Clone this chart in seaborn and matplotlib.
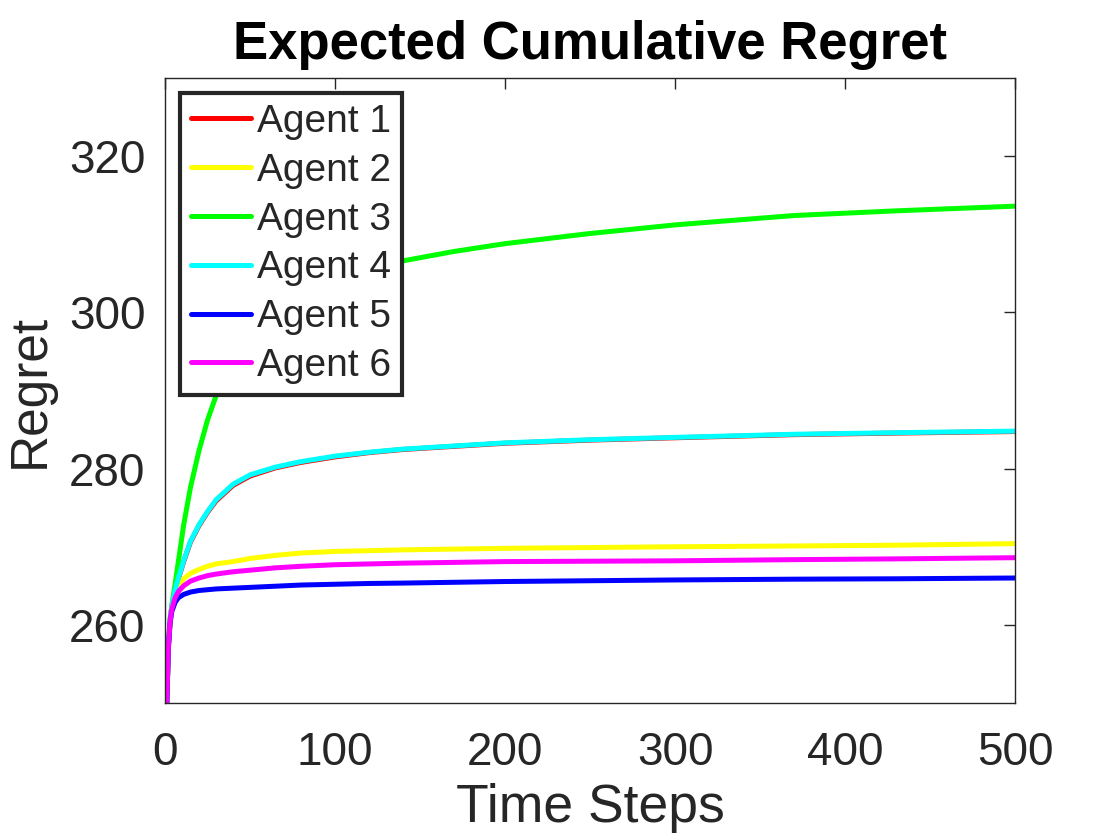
import numpy as np
import pandas as pd
import seaborn as sns
import matplotlib
matplotlib.use("Agg")
import matplotlib.pyplot as plt

steps = [1, 2, 3, 4, 6, 8, 11, 15, 20, 25, 30, 40, 50, 65, 80, 100, 120, 140,
         170, 200, 250, 300, 370, 430, 500]

agent1 = [249.5, 257.4, 260.7, 262.2, 264.4, 266.0, 268.1, 270.6, 272.7, 274.4,
          275.85, 277.85, 279.05, 280.1, 280.8, 281.5, 282.05, 282.45, 282.85, 283.25,
          283.65, 283.95, 284.35, 284.55, 284.75]
agent2 = [249.5, 257.3, 260.6, 262.3, 264.0, 265.0, 265.9, 266.6, 267.1, 267.5,
          267.8, 268.1, 268.5, 268.9, 269.2, 269.4, 269.5, 269.6, 269.7, 269.8,
          269.9, 270.0, 270.1, 270.2, 270.4]
agent3 = [249.5, 257.0, 260.5, 262.5, 265.3, 268.3, 272.8, 277.6, 282.3, 286.2,
          289.3, 294.0, 297.3, 300.6, 302.8, 304.6, 305.7, 306.6, 307.8, 308.8,
          310.1, 311.2, 312.4, 313.0, 313.6]
agent4 = [249.5, 257.5, 260.8, 262.3, 264.5, 266.1, 268.2, 270.7, 272.8, 274.5,
          276.0, 278.0, 279.2, 280.2, 280.9, 281.6, 282.1, 282.5, 282.9, 283.3,
          283.7, 284.0, 284.4, 284.6, 284.8]
agent5 = [249.5, 257.0, 260.2, 261.7, 262.9, 263.5, 263.9, 264.2, 264.4, 264.5,
          264.6, 264.7, 264.8, 264.95, 265.1, 265.2, 265.3, 265.35, 265.45, 265.55,
          265.65, 265.75, 265.85, 265.9, 266.0]
agent6 = [249.5, 257.2, 260.4, 262.0, 263.5, 264.3, 265.0, 265.6, 266.0, 266.3,
          266.5, 266.8, 267.0, 267.3, 267.5, 267.7, 267.8, 267.9, 268.0, 268.1,
          268.15, 268.2, 268.35, 268.45, 268.6]

agent_names = ["Agent 1", "Agent 2", "Agent 3", "Agent 4", "Agent 5", "Agent 6"]
agent_colors = ["#ff0000", "#ffff00", "#00ff00", "#00ffff", "#0000ff", "#ff00ff"]

series = [agent1, agent2, agent3, agent4, agent5, agent6]
df = pd.concat(
    [pd.DataFrame({"step": steps, "regret": vals, "agent": name})
     for name, vals in zip(agent_names, series)],
    ignore_index=True,
)

sns.set_style("white")
plt.rcParams["font.family"] = ["Liberation Sans", "DejaVu Sans"]

fig = plt.figure(figsize=(11.2, 8.4), dpi=100)
ax = fig.add_axes([0.1473, 0.1631, 0.759, 0.744])

sns.lineplot(data=df, x="step", y="regret", hue="agent", hue_order=agent_names,
             palette=agent_colors, linewidth=3.6, ax=ax, legend=False)

ax.set_xlim(0, 500)
ax.set_ylim(250, 330)
ax.set_xticks([0, 100, 200, 300, 400, 500])
ax.set_yticks([260, 280, 300, 320])

for side in ["top", "right", "bottom", "left"]:
    ax.spines[side].set_visible(True)
    ax.spines[side].set_color("#262626")
    ax.spines[side].set_linewidth(1.0)

ax.tick_params(direction="in", length=8, width=1.0, top=True, right=True,
               labelsize=33, colors="#262626")
ax.tick_params(axis="x", pad=20)
ax.tick_params(axis="y", pad=14)

ax.set_title("Expected Cumulative Regret", fontsize=38, fontweight="bold",
             color="black", pad=14)
ax.set_xlabel("Time Steps", fontsize=38.5, color="#262626", labelpad=6)
ax.set_ylabel("Regret", fontsize=37, color="#262626", labelpad=10)

handles = [plt.Line2D([], [], color=c, linewidth=3.6) for c in agent_colors]
leg = ax.legend(handles, agent_names, loc="upper left",
                bbox_to_anchor=(0.0176, 0.976), borderaxespad=0,
                fontsize=28, frameon=True, fancybox=False,
                handlelength=1.55, handletextpad=0.15, labelspacing=0.33,
                borderpad=0.28)
leg.get_frame().set_edgecolor("#262626")
leg.get_frame().set_linewidth(3)
leg.get_frame().set_alpha(1)

fig.savefig("out.png", dpi=100)
